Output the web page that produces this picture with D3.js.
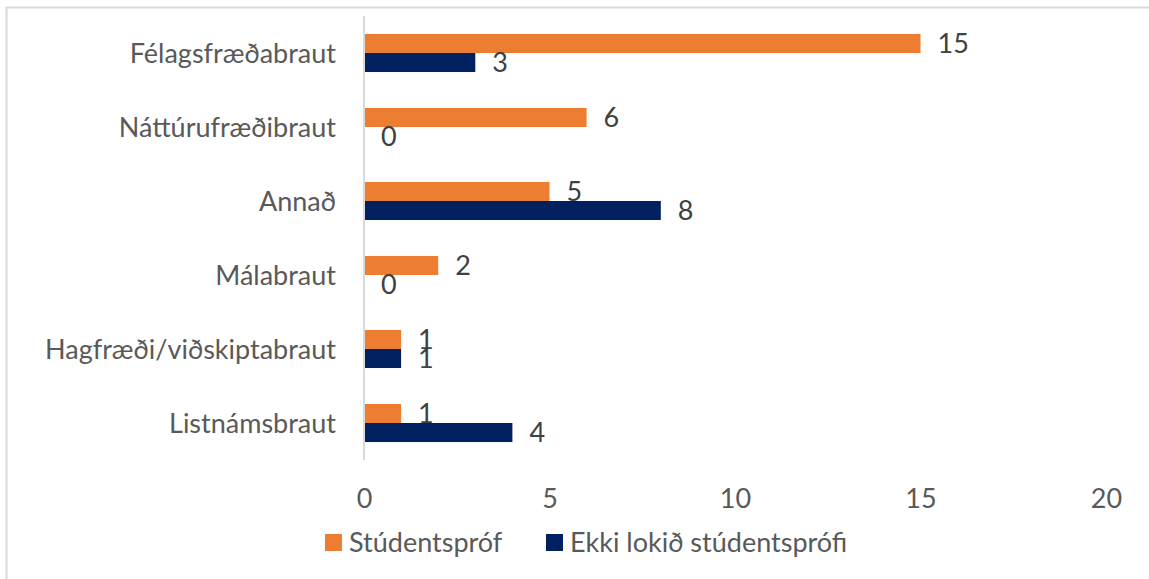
<!DOCTYPE html>
<html><head><meta charset="utf-8">
<script src="https://cdn.jsdelivr.net/npm/d3@7"></script>
<style>body{margin:0;background:#fff;} text{font-family:Lato, "Noto Sans", sans-serif;}</style>
</head><body>
<svg id="c" width="1149" height="579"></svg>
<script>
const categories = ["Félagsfræðabraut","Náttúrufræðibraut","Annað","Málabraut","Hagfræði/viðskiptabraut","Listnámsbraut"];
const seriesNames = ["Stúdentspróf","Ekki lokið stúdentsprófi"];
const studentsprof = [15,6,5,2,1,1];
const ekkiLokid = [3,0,8,0,1,4];
const xTicks = [0,5,10,15,20];
const colors = ["#ED7D31","#002060"];

const svg = d3.select("#c");
const W=1149,H=579;
svg.append("rect").attr("x",6.5).attr("y",7.5).attr("width",W+10).attr("height",H+10)
  .attr("fill","#fff").attr("stroke","#d9d9d9").attr("stroke-width",2);

const x = d3.scaleLinear().domain([0,20]).range([364,1106]);
const y = d3.scaleBand().domain(categories).range([16,460]).paddingInner(0.486).paddingOuter(0.243);
const y1 = d3.scaleBand().domain(seriesNames).range([0,y.bandwidth()]);
const fs = 27, textCol = "#595959";

const series = [studentsprof, ekkiLokid];
categories.forEach((c,i)=>{
  series.forEach((s,j)=>{
    const v=s[i];
    const by = y(c)+y1(seriesNames[j]);
    svg.append("rect").attr("x",x(0)).attr("y",by).attr("width",x(v)-x(0)).attr("height",y1.bandwidth()).attr("fill",colors[j]);
    svg.append("text").attr("x",x(v)+17).attr("y",by+y1.bandwidth()/2+9.5)
      .attr("font-size",fs).attr("fill","#404040").text(v);
  });
});

// axis line
svg.append("line").attr("x1",x(0)).attr("x2",x(0)).attr("y1",16).attr("y2",460).attr("stroke","#d9d9d9").attr("stroke-width",2);

// category labels
const yAxis = d3.axisLeft(y).tickSize(0).tickPadding(28);
const ga = svg.append("g").attr("transform",`translate(${x(0)},0)`).call(yAxis);
ga.select(".domain").remove();
ga.selectAll("text").attr("font-size",fs).attr("fill",textCol).attr("font-family","Lato").attr("dy",null).attr("y",9.5);

// x axis
const xAxis = d3.axisBottom(x).tickValues(xTicks).tickSize(0).tickPadding(0);
const gx = svg.append("g").attr("transform",`translate(0,489)`).call(xAxis);
gx.select(".domain").remove();
gx.selectAll("text").attr("font-size",fs).attr("fill",textCol).attr("font-family","Lato").attr("dy",null).attr("y",19);

// legend
const leg = [{n:seriesNames[0],c:colors[0],x:325},{n:seriesNames[1],c:colors[1],x:546}];
leg.forEach(d=>{
  svg.append("rect").attr("x",d.x).attr("y",534).attr("width",17).attr("height",17).attr("fill",d.c);
  svg.append("text").attr("x",d.x+24).attr("y",552).attr("font-size",fs).attr("fill",textCol).text(d.n);
});
</script>
</body></html>
